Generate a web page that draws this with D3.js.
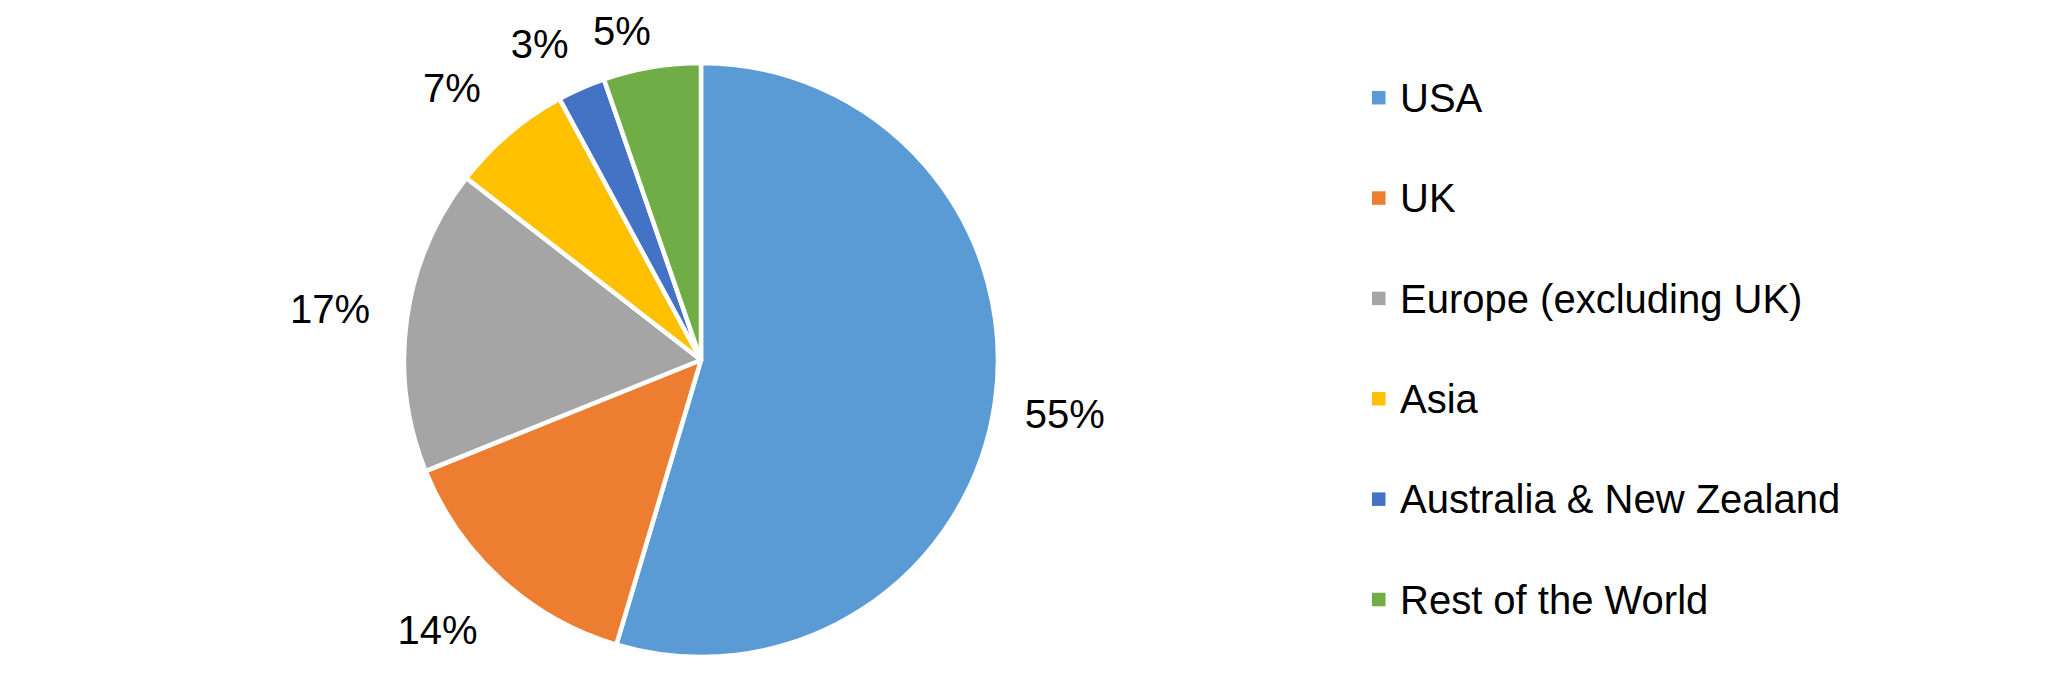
<!DOCTYPE html>
<html>
<head>
<meta charset="utf-8">
<script src="https://cdn.jsdelivr.net/npm/d3@7"></script>
<style>
  html, body { margin: 0; padding: 0; background: #fff; }
  svg { display: block; }
  text { font-family: "Liberation Sans", Arial, sans-serif; fill: #000; }
</style>
</head>
<body>
<svg id="chart" width="2056" height="693"></svg>
<script>
const categories = ["USA", "UK", "Europe (excluding UK)", "Asia", "Australia & New Zealand", "Rest of the World"];
const values = [54.6, 14.3, 16.6, 6.6, 2.6, 5.3];
const labels = ["55%", "14%", "17%", "7%", "3%", "5%"];
const colors = ["#5B9BD5", "#ED7D31", "#A5A5A5", "#FFC000", "#4472C4", "#70AD47"];

const W = 2056, H = 693;
const cx = 701, cy = 360, R = 297;
const fontSize = 40;

const svg = d3.select("#chart");
const data = categories.map((c, i) => ({ cat: c, value: values[i], label: labels[i], color: colors[i] }));

const pie = d3.pie().sort(null).value(d => d.value);
const arc = d3.arc().innerRadius(0).outerRadius(R);
const arcs = pie(data);

const g = svg.append("g").attr("transform", `translate(${cx},${cy})`);
g.selectAll("path.slice").data(arcs).join("path")
  .attr("class", "slice")
  .attr("d", arc)
  .attr("fill", d => d.data.color)
  .attr("stroke", "#fff")
  .attr("stroke-width", 4.5)
  .attr("stroke-linejoin", "round");

// data labels placed just outside the pie edge (gap differs horizontally / vertically)
const gapX = 31, gapY = 13, capH = 0.716 * fontSize, nudge = 24;
const lbl = g.selectAll("text.lbl").data(arcs).join("text")
  .attr("class", "lbl")
  .attr("font-size", fontSize)
  .attr("text-anchor", "middle")
  .text(d => d.data.label);
lbl.each(function(d) {
  const w = this.getComputedTextLength();
  const a = (d.startAngle + d.endAngle) / 2;
  const ux = Math.sin(a), uy = -Math.cos(a);
  const gap = Math.abs(ux) * gapX + Math.abs(uy) * gapY;
  const proj = Math.abs(ux) * w / 2 + Math.abs(uy) * capH / 2;
  const dist = R + gap + proj;
  d3.select(this)
    .attr("x", ux * dist - nudge * Math.abs(uy))
    .attr("y", uy * dist + capH / 2);
});

// legend
const legendX = 1372, sq = 13.5;
const ly = d3.scaleLinear().domain([0, categories.length - 1]).range([97.7, 599.5]);
const leg = svg.append("g").selectAll("g").data(data).join("g")
  .attr("transform", (d, i) => `translate(${legendX},${ly(i)})`);
leg.append("rect")
  .attr("x", 0).attr("y", -sq / 2)
  .attr("width", sq).attr("height", sq)
  .attr("fill", d => d.color);
leg.append("text")
  .attr("x", 28)
  .attr("y", capH / 2)
  .attr("font-size", fontSize)
  .text(d => d.cat);
</script>
</body>
</html>
